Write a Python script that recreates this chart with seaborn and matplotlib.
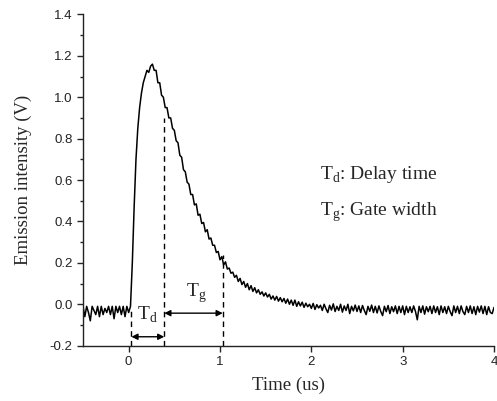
import numpy as np
import pandas as pd
import matplotlib
matplotlib.use("Agg")
import matplotlib.pyplot as plt
import seaborn as sns

signal = [
    -0.01, -0.06, -0.01, -0.04, -0.08, -0.01, -0.03, -0.05, -0.01, -0.06,   # -0.50
    -0.01, -0.05, -0.02, -0.04, -0.01, -0.05, -0.01, -0.07, -0.01, -0.04,   # -0.30
    -0.01, -0.05, -0.01, -0.06, -0.01, -0.04, -0.01, 0.20, 0.47, 0.70,      # -0.10
    0.85, 0.95, 1.02, 1.07, 1.10, 1.13, 1.12, 1.15, 1.16, 1.13,             # 0.10
    1.13, 1.07, 1.07, 1.01, 1.00, 0.95, 0.95, 0.90, 0.90, 0.85,             # 0.30
    0.84, 0.79, 0.78, 0.72, 0.71, 0.65, 0.64, 0.59, 0.58, 0.53,             # 0.50
    0.53, 0.48, 0.485, 0.43, 0.435, 0.39, 0.395, 0.35, 0.36, 0.315,         # 0.70
    0.32, 0.285, 0.285, 0.25, 0.255, 0.215, 0.23, 0.19, 0.205, 0.17,        # 0.90
    0.175, 0.15, 0.155, 0.13, 0.14, 0.11, 0.125, 0.095, 0.11, 0.082,        # 1.10
    0.10, 0.07, 0.09, 0.062, 0.08, 0.055, 0.07, 0.048, 0.06, 0.04,          # 1.30
    0.055, 0.035, 0.048, 0.025, 0.04, 0.02, 0.038, 0.015, 0.032, 0.012,     # 1.50
    0.028, 0.005, 0.025, 0.0, 0.02, -0.005, 0.02, -0.01, 0.012, -0.008,     # 1.70
    0.01, -0.015, 0.005, -0.012, 0.0, -0.02, 0.004, -0.025, -0.002, -0.018, # 1.90
    -0.005, -0.03, 0.0, -0.022, -0.04, -0.005, -0.028, 0.002, -0.035, -0.01,      # 2.10
    -0.03, 0.0, -0.038, -0.008, -0.03, 0.0, -0.045, -0.01, -0.032, -0.004,        # 2.30
    -0.035, -0.008, -0.04, -0.006, -0.03, -0.05, -0.01, -0.034, -0.004, -0.04,    # 2.50
    -0.01, -0.042, -0.008, -0.035, -0.055, -0.01, -0.036, -0.006, -0.045, -0.012, # 2.70
    -0.036, -0.008, -0.045, -0.01, -0.04, -0.008, -0.05, -0.01, -0.04, -0.012,    # 2.90
    -0.04, -0.008, -0.035, -0.075, -0.01, -0.04, -0.008, -0.048, -0.012, -0.036,  # 3.10
    -0.01, -0.045, -0.008, -0.04, -0.012, -0.05, -0.008, -0.04, -0.012, -0.045,   # 3.30
    -0.01, -0.036, -0.055, -0.008, -0.04, -0.01, -0.045, -0.008, -0.036, -0.05,   # 3.50
    -0.01, -0.04, -0.008, -0.045, -0.012, -0.05, -0.01, -0.038, -0.008, -0.045,   # 3.70
    -0.01, -0.05, -0.012, -0.04, -0.045, -0.015,                                  # 3.90
]
time = np.linspace(-0.5, 4.0, len(signal))

# gate markers: start, delay end, gate end and the curve level where each dashed line stops
t_start, t_delay, t_gate = 0.03, 0.39, 1.03
top_start, top_delay, top_gate = -0.03, 0.90, 0.24

df = pd.DataFrame({"Time (us)": time, "Emission intensity (V)": signal})

sns.set_style("ticks")
plt.rcParams["mathtext.fontset"] = "custom"
plt.rcParams["mathtext.rm"] = "Liberation Serif"
serif = ["Liberation Serif", "DejaVu Serif"]
sans = ["Liberation Sans", "DejaVu Sans"]

fig = plt.figure(figsize=(4.97, 4.01), dpi=100)
ax = fig.add_axes([0.167, 0.138, 0.827, 0.826])
sns.lineplot(data=df, x="Time (us)", y="Emission intensity (V)", ax=ax,
             color="black", linewidth=1.1)

ax.set_xlim(-0.5, 4.0)
ax.set_ylim(-0.2, 1.4)
ax.set_xticks([0, 1, 2, 3, 4])
ax.set_yticks(np.arange(-0.2, 1.41, 0.2))
ax.set_yticks(np.arange(-0.1, 1.4, 0.2), minor=True)
ax.set_yticklabels([f"{v:.1f}" for v in np.arange(-0.2, 1.41, 0.2)])
ax.tick_params(which="major", length=4.5, width=1, direction="out", labelsize=9.5, pad=3)
ax.tick_params(which="minor", length=2.5, width=1, direction="out")
for lab in ax.get_xticklabels() + ax.get_yticklabels():
    lab.set_family(sans)
    lab.set_color("#222222")
sns.despine(ax=ax)
for side in ["left", "bottom"]:
    ax.spines[side].set_linewidth(1)
    ax.spines[side].set_color("#222222")

ax.set_xlabel("Time (us)", family=serif, fontsize=13.5, labelpad=6)
ax.set_ylabel("Emission intensity (V)", family=serif, fontsize=13.5, labelpad=13)

# dashed gate lines
ax.vlines([t_start, t_delay, t_gate], -0.2, [top_start, top_delay, top_gate],
          colors="black", linestyles=(0, (4, 3)), linewidth=1)

# double arrows
arrow = dict(arrowstyle="<|-|>", color="black", lw=1, mutation_scale=9,
             shrinkA=0, shrinkB=0)
ax.annotate("", xy=(t_start, -0.157), xytext=(t_delay, -0.157), arrowprops=arrow)
ax.annotate("", xy=(t_delay, -0.043), xytext=(t_gate, -0.043), arrowprops=arrow)

ax.text(0.21, -0.05, r"T$_{\mathrm{d}}$", family=serif, fontsize=14, ha="center", va="center")
ax.text(0.74, 0.055, r"T$_{\mathrm{g}}$", family=serif, fontsize=14, ha="center", va="center")
ax.text(2.1, 0.625, r"T$_{\mathrm{d}}$: Delay time", family=serif, fontsize=14, va="center")
ax.text(2.1, 0.445, r"T$_{\mathrm{g}}$: Gate width", family=serif, fontsize=14, va="center")

fig.savefig("out.png", dpi=100)
